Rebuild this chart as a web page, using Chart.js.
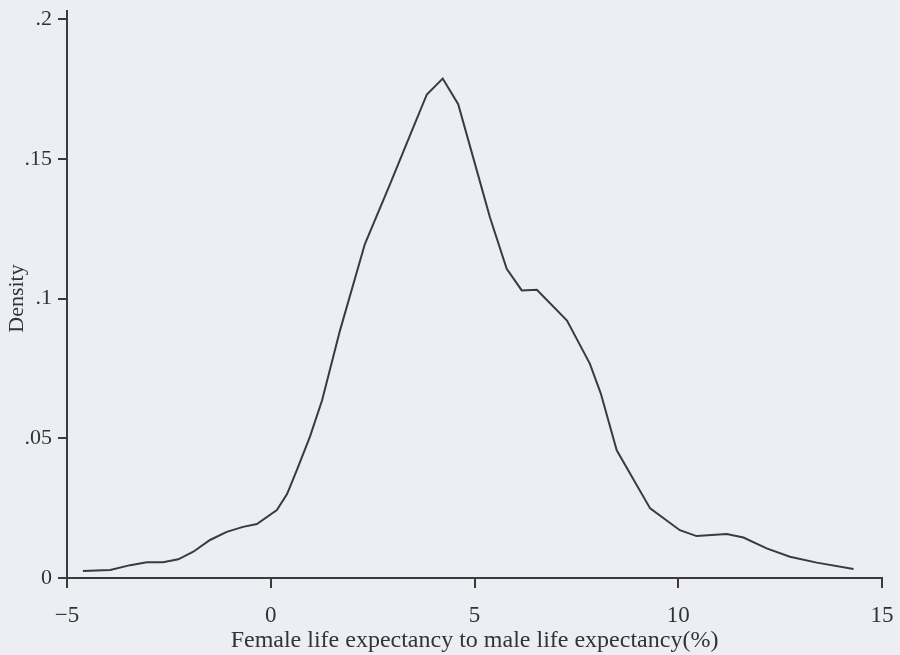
<!DOCTYPE html>
<html>
<head>
<meta charset="utf-8">
<title>Density</title>
<script src="https://cdn.jsdelivr.net/npm/chart.js@4.4.1/dist/chart.umd.min.js"></script>
<style>
  html, body { margin: 0; padding: 0; background: #eceef3; }
  #wrap { width: 900px; height: 655px; }
</style>
</head>
<body>
<div id="wrap"><canvas id="myChart" width="900" height="655"></canvas></div>
<script>
// values
const gapPct = [-4.61, -3.94, -3.45, -3.04, -2.64, -2.27, -1.9, -1.49, -1.08, -0.68,
  -0.34, 0.15, 0.40, 0.64, 0.96, 1.26, 1.70, 2.31, 2.93, 3.49,
  3.83, 4.22, 4.60, 5.13, 5.38, 5.79, 6.16, 6.53, 7.27, 7.83,
  8.1, 8.49, 9.31, 10.04, 10.45, 11.19, 11.6, 12.17, 12.74, 13.40, 14.3];
const density = [0.0025, 0.0029, 0.0046, 0.0056, 0.0056, 0.0067, 0.0094, 0.0136, 0.0165, 0.0183,
  0.0193, 0.0243, 0.030, 0.0386, 0.0505, 0.0636, 0.0886, 0.1195, 0.141, 0.161,
  0.173, 0.1787, 0.1695, 0.142, 0.129, 0.1106, 0.1029, 0.1031, 0.0921, 0.0767,
  0.066, 0.0457, 0.0249, 0.0171, 0.015, 0.0157, 0.0145, 0.0106, 0.0076, 0.0055, 0.0032];
const xTicks = [-5, 0, 5, 10, 15];
const yTicks = [0, 0.05, 0.1, 0.15, 0.2];
const yTickText = ['0', '.05', '.1', '.15', '.2'];

const ink = '#3b3b3b';
const serif = 'Liberation Serif';

// paper background + the small overshoot of the y axis line above .2
const paper = {
  id: 'paper',
  beforeDraw(chart) {
    const c = chart.ctx;
    c.save();
    c.fillStyle = '#eceef3';
    c.fillRect(0, 0, chart.width, chart.height);
    c.restore();
  },
  afterDraw(chart) {
    const y = chart.scales.y, c = chart.ctx;
    c.save();
    c.strokeStyle = ink;
    c.lineWidth = 2;
    c.beginPath();
    c.moveTo(y.right, y.top + 1);
    c.lineTo(y.right, y.top - 9);
    c.stroke();
    c.restore();
  }
};

var ctx = document.getElementById('myChart').getContext('2d');
var myChart = new Chart(ctx, {
  type: 'line',
  data: {
    datasets: [{
      data: gapPct.map((x, i) => ({ x: x, y: density[i] })),
      borderColor: ink,
      borderWidth: 2,
      pointRadius: 0,
      tension: 0,
      fill: false
    }]
  },
  options: {
    responsive: false,
    animation: false,
    layout: { padding: { left: 0, top: 19, right: 18, bottom: 0 } },
    plugins: { legend: { display: false }, tooltip: { enabled: false } },
    scales: {
      x: {
        type: 'linear',
        min: -5, max: 15,
        afterBuildTicks: s => { s.ticks = xTicks.map(v => ({ value: v })); },
        afterFit: s => { s.height = 77; s.paddingLeft = 0; s.paddingRight = 0; },
        border: { display: true, color: ink, width: 2 },
        grid: { drawOnChartArea: false, drawTicks: true, tickLength: 10, color: ink, lineWidth: 2 },
        ticks: {
          color: '#333',
          padding: 14,
          maxRotation: 0,
          font: { family: serif, size: 23 },
          callback: v => (v < 0 ? '\u2212' + Math.abs(v) : String(v))
        },
        title: {
          display: true,
          text: 'Female life expectancy to male life expectancy(%)',
          color: '#333',
          padding: { top: 0, bottom: 0 },
          font: { family: serif, size: 24 }
        }
      },
      y: {
        min: 0, max: 0.2,
        afterBuildTicks: s => { s.ticks = yTicks.map(v => ({ value: v })); },
        afterFit: s => { s.width = 67; s.paddingTop = 0; s.paddingBottom = 0; },
        border: { display: true, color: ink, width: 2 },
        grid: { drawOnChartArea: false, drawTicks: true, tickLength: 9, color: ink, lineWidth: 2 },
        ticks: {
          color: '#333',
          padding: 6,
          font: { family: serif, size: 22 },
          callback: v => yTickText[yTicks.indexOf(Math.round(v * 100) / 100)]
        },
        title: {
          display: true,
          text: 'Density',
          color: '#333',
          padding: { top: 4, bottom: 0 },
          font: { family: serif, size: 22 }
        }
      }
    }
  },
  plugins: [paper]
});
</script>
</body>
</html>
